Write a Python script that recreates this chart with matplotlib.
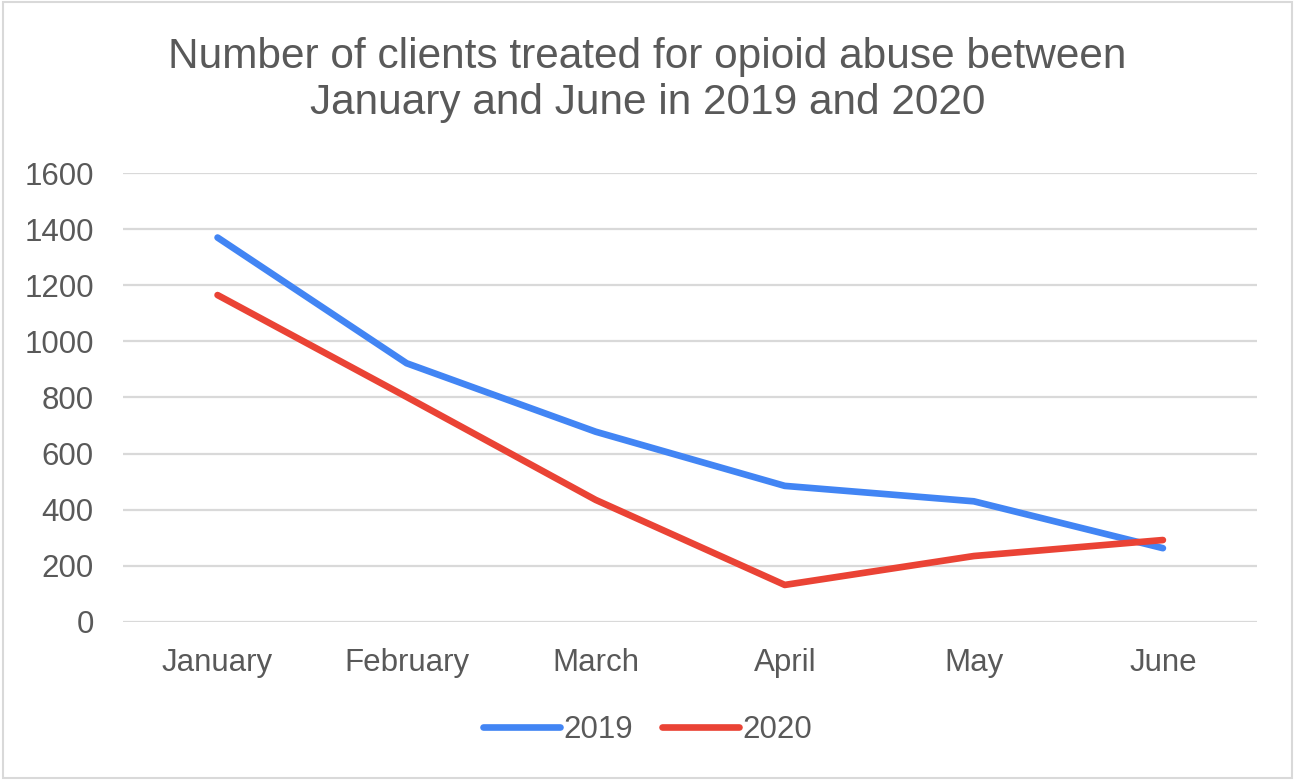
import matplotlib.pyplot as plt
from matplotlib.patches import Rectangle

plt.rcParams['font.family'] = ['Liberation Sans', 'DejaVu Sans']

months = ["January", "February", "March", "April", "May", "June"]
clients_2019 = [1370, 922, 678, 485, 430, 263]
clients_2020 = [1165, 802, 435, 132, 235, 292]

text_col = "#595959"
grid_col = "#d9d9d9"

fig = plt.figure(figsize=(12.95, 7.8), dpi=100)
ax = fig.add_axes([0.095, 0.2026, 0.876, 0.5756])

x = range(len(months))
ax.plot(x, clients_2019, color="#4285f4", lw=4.8, solid_capstyle="round",
        solid_joinstyle="round", label="2019", zorder=3)
ax.plot(x, clients_2020, color="#ea4335", lw=4.8, solid_capstyle="round",
        solid_joinstyle="round", label="2020", zorder=3)

ax.set_xlim(-0.5, len(months) - 0.5)
ax.set_ylim(0, 1600)
ax.set_yticks(range(0, 1601, 200))
ax.set_xticks(list(x))
ax.set_xticklabels(months)
ax.grid(axis="y", color=grid_col, lw=1.6)
ax.set_axisbelow(True)
for s in ax.spines.values():
    s.set_visible(False)
ax.tick_params(length=0, labelsize=22.5, colors=text_col)
ax.tick_params(axis="y", pad=21)
ax.tick_params(axis="x", pad=19)

fig.suptitle("Number of clients treated for opioid abuse between\nJanuary and June in 2019 and 2020",
             y=0.953, fontsize=30.5, color=text_col, linespacing=1.2)

leg = fig.legend(loc="center", bbox_to_anchor=(0.5, 0.064), ncol=2, frameon=False,
                 fontsize=22.5, handlelength=2.45, handletextpad=0.1, columnspacing=0.95)
for t in leg.get_texts():
    t.set_color(text_col)

fig.patches.append(Rectangle((0.002, 0.003), 0.996, 0.994, transform=fig.transFigure,
                             fill=False, edgecolor=grid_col, lw=1.5))

fig.savefig("out.png", dpi=100, facecolor="white")
